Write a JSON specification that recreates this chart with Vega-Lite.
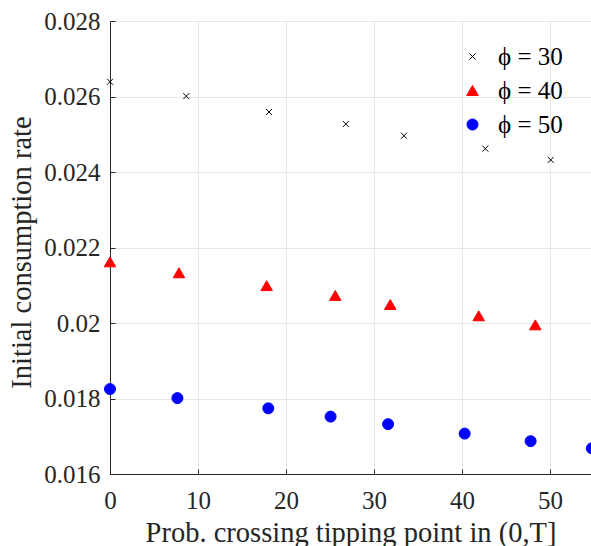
{
  "$schema": "https://vega.github.io/schema/vega-lite/v6.json",
  "width": 481,
  "height": 453,
  "autosize": "none",
  "padding": {"left": 110, "top": 21, "right": 0, "bottom": 72},
  "background": "white",
  "config": {
    "font": "Liberation Serif",
    "view": {"stroke": null},
    "style": {
      "guide-label": {"font": "Liberation Serif"},
      "guide-title": {"font": "Liberation Serif"}
    },
    "axis": {
      "labelFont": "Liberation Serif",
      "titleFont": "Liberation Serif",
      "labelFontSize": 25,
      "titleFontSize": 28.5,
      "labelColor": "#262626",
      "titleColor": "#262626",
      "titleFontWeight": "normal",
      "domainColor": "#262626",
      "tickColor": "#262626",
      "gridColor": "#e6e6e6",
      "gridWidth": 1,
      "tickSize": -5,
      "domainWidth": 1,
      "labelFlush": false
    },
    "legend": {
      "labelFont": "Liberation Serif",
      "labelFontSize": 25,
      "labelColor": "#000000"
    }
  },
  "data": {
    "values": [
      {"phi": "ϕ = 30", "x": 0, "y": 0.02639},
      {"phi": "ϕ = 30", "x": 8.67, "y": 0.02601},
      {"phi": "ϕ = 30", "x": 18.07, "y": 0.02559},
      {"phi": "ϕ = 30", "x": 26.8, "y": 0.02527},
      {"phi": "ϕ = 30", "x": 33.4, "y": 0.02496},
      {"phi": "ϕ = 30", "x": 42.65, "y": 0.02462},
      {"phi": "ϕ = 30", "x": 50.08, "y": 0.02432},
      {"phi": "ϕ = 40", "x": 0, "y": 0.02162},
      {"phi": "ϕ = 40", "x": 7.84, "y": 0.02133},
      {"phi": "ϕ = 40", "x": 17.8, "y": 0.02099},
      {"phi": "ϕ = 40", "x": 25.6, "y": 0.02073},
      {"phi": "ϕ = 40", "x": 31.85, "y": 0.02049},
      {"phi": "ϕ = 40", "x": 41.9, "y": 0.02019},
      {"phi": "ϕ = 40", "x": 48.33, "y": 0.01995},
      {"phi": "ϕ = 50", "x": 0, "y": 0.01825},
      {"phi": "ϕ = 50", "x": 7.66, "y": 0.01801},
      {"phi": "ϕ = 50", "x": 17.99, "y": 0.01774},
      {"phi": "ϕ = 50", "x": 25.07, "y": 0.01752},
      {"phi": "ϕ = 50", "x": 31.6, "y": 0.01732},
      {"phi": "ϕ = 50", "x": 40.3, "y": 0.01707},
      {"phi": "ϕ = 50", "x": 47.8, "y": 0.01687},
      {"phi": "ϕ = 50", "x": 54.75, "y": 0.01668}
    ]
  },
  "mark": {"type": "point", "strokeWidth": 1, "opacity": 1, "clip": false},
  "encoding": {
    "x": {
      "field": "x", "type": "quantitative",
      "scale": {"domain": [0, 54.66], "nice": false, "zero": false},
      "axis": {
        "values": [0, 10, 20, 30, 40, 50],
        "title": "Prob. crossing tipping point in (0,T]",
        "labelPadding": 19,
        "titlePadding": 5,
        "grid": true
      }
    },
    "y": {
      "field": "y", "type": "quantitative",
      "scale": {"domain": [0.016, 0.028], "nice": false, "zero": false},
      "axis": {
        "values": [0.016, 0.018, 0.02, 0.022, 0.024, 0.026, 0.028],
        "format": "~g",
        "title": "Initial consumption rate",
        "labelPadding": 15,
        "titlePadding": 7,
        "titleY": 231,
        "grid": true
      }
    },
    "shape": {
      "field": "phi", "type": "nominal",
      "scale": {"domain": ["ϕ = 30", "ϕ = 40", "ϕ = 50"], "range": ["M-0.5,-0.5L0.5,0.5M-0.5,0.5L0.5,-0.5", "triangle-up", "circle"]},
      "legend": {
        "title": null,
        "orient": "none",
        "legendX": 350,
        "legendY": 23,
        "padding": 0,
        "labelFont": "Liberation Serif",
        "labelFontSize": 25,
        "labelColor": "#000000",
        "rowPadding": 8,
        "labelOffset": 13,
        "symbolStrokeWidth": 1
      }
    },
    "fill": {
      "field": "phi", "type": "nominal",
      "scale": {"domain": ["ϕ = 30", "ϕ = 40", "ϕ = 50"], "range": ["transparent", "#ff0000", "#0000ff"]},
      "legend": {"title": null}
    },
    "stroke": {
      "field": "phi", "type": "nominal",
      "scale": {"domain": ["ϕ = 30", "ϕ = 40", "ϕ = 50"], "range": ["#000000", "#ff0000", "#0000ff"]},
      "legend": {"title": null}
    },
    "size": {
      "field": "phi", "type": "nominal",
      "scale": {"domain": ["ϕ = 30", "ϕ = 40", "ϕ = 50"], "range": [144, 121, 81]},
      "legend": {"title": null}
    }
  }
}
